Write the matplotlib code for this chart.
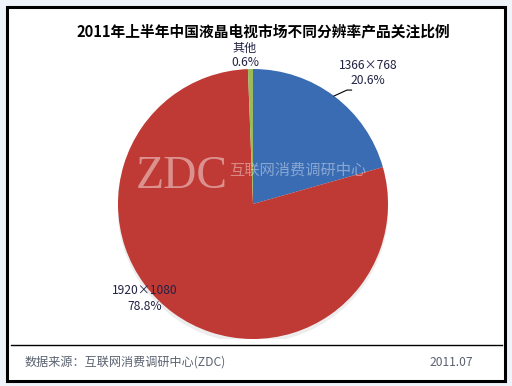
import matplotlib.pyplot as plt
from matplotlib.patches import Rectangle, Ellipse
from matplotlib.lines import Line2D

plt.rcParams['font.family'] = ['Noto Sans CJK SC', 'DejaVu Sans']

title = '2011年上半年中国液晶电视市场不同分辨率产品关注比例'
labels = ['1366×768', '1920×1080', '其他']
shares = [20.6, 78.8, 0.6]
colors = ['#3a6cb3', '#bf3a35', '#9bbb59']
source = '数据来源：互联网消费调研中心(ZDC)'
date = '2011.07'

W, H = 512, 386
fig = plt.figure(figsize=(W / 100, H / 100), dpi=100)
fig.patch.set_facecolor('#eef4fa')

# frame
fig.patches.append(Rectangle((7 / W, 1 - 381 / H), 498 / W, 374 / H, transform=fig.transFigure,
                             facecolor='white', edgecolor='black', linewidth=2.2, zorder=-5))
fig.lines.append(Line2D([11 / W, 502 / W], [1 - 345 / H, 1 - 345 / H], transform=fig.transFigure,
                        color='black', linewidth=1))

fig.text(263 / W, 1 - 31 / H, title, ha='center', va='center', fontsize=10.6,
         fontweight='bold', color='black')
fig.text(25 / W, 1 - 362 / H, source, ha='left', va='center', fontsize=8.7, color='#5a6270')
fig.text(473 / W, 1 - 362 / H, date, ha='right', va='center', fontsize=8.7, color='#5a6270')

# pie axes: center (253,204) px, radius 135 px
cx, cy, r = 253, 204, 135
ax = fig.add_axes([(cx - r) / W, 1 - (cy + r) / H, 2 * r / W, 2 * r / H])
ax.patch.set_visible(False)

# soft shadow under the pie
ax.add_patch(Ellipse((0.0, -0.025), 2.01, 2.01, facecolor='#000000', alpha=0.07, zorder=0))
ax.pie(shares, colors=colors, startangle=90, counterclock=False, radius=1,
       wedgeprops=dict(linewidth=0), frame=True)
ax.set_xlim(-1, 1)
ax.set_ylim(-1, 1)
ax.set_aspect('equal')
ax.axis('off')

lab_col = '#222244'
ax.text(0.852, 0.97, labels[0] + '\n' + '%.1f%%' % shares[0], ha='center', va='center',
        fontsize=8.7, color=lab_col, linespacing=1.2, clip_on=False)
ax.plot([0.6, 0.696, 0.73], [0.80, 0.844, 0.844], color='black', linewidth=0.8, clip_on=False)
ax.text(-0.059, 1.10, labels[2] + '\n' + '%.1f%%' % shares[2], ha='center', va='center',
        fontsize=8.7, color=lab_col, linespacing=1.2, clip_on=False)
ax.text(-0.80, -0.70, labels[1] + '\n' + '%.1f%%' % shares[1], ha='center', va='center',
        fontsize=8.7, color=lab_col, linespacing=1.2, clip_on=False)

# watermark
fig.text(182 / W, 1 - 177 / H, 'ZDC', ha='center', va='center', fontsize=33,
         family='Liberation Serif', color='white', alpha=0.45)
fig.text(298 / W, 1 - 170 / H, '互联网消费调研中心', ha='center', va='center', fontsize=11,
         color='white', alpha=0.4)

fig.savefig('out.png', dpi=100, facecolor=fig.get_facecolor())
